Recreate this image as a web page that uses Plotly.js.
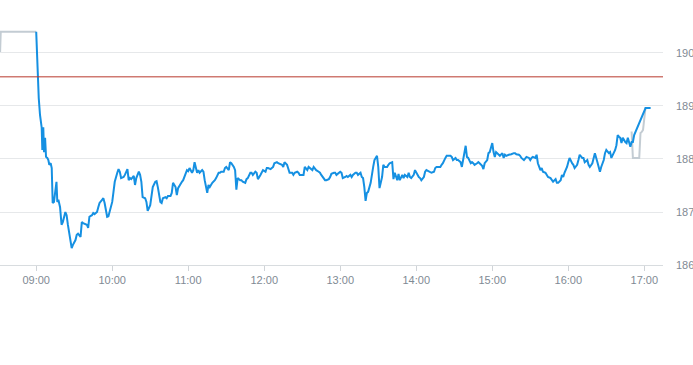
<!DOCTYPE html>
<html>
<head>
<meta charset="utf-8">
<script src="https://cdn.plot.ly/plotly-3.0.1.min.js"></script>
<style>html,body{margin:0;padding:0;background:#fff;}#chart{width:693px;height:365px;}</style>
</head>
<body>
<div id="chart"></div>
<script>
const sessionDate = "2024-01-01";
const prevClose = 189.55;

// pre-open and closing-auction segments (null = gap between them)
const extTimes = ["08:31:30","08:32","09:00","12:00","16:50","16:51","16:56","16:57","16:58","16:59","17:01"];
const extPrices = [190.02,190.40,190.40,null,188.52,188.02,188.02,188.49,188.51,188.55,188.98];

const mainTimes = [
"09:00","09:01","09:02","09:03","09:04:20","09:04:50","09:05:35","09:06:10","09:07","09:07:45","09:08:45","09:09:35","09:10:20","09:11:25","09:12:15","09:13","09:14","09:16","09:16:40","09:17:30","09:18:50",
"09:20","09:21","09:23","09:24","09:25","09:27","09:28","09:29","09:31","09:32","09:33","09:35","09:36","09:37","09:39","09:40","09:41","09:42","09:44","09:45","09:46","09:48","09:49","09:50","09:52","09:53","09:54","09:56","09:57","09:58",
"10:00","10:01","10:02","10:04","10:05","10:06","10:07","10:09","10:10","10:12","10:13","10:14","10:15","10:17","10:18","10:19","10:21","10:22","10:23","10:24","10:26","10:27","10:28","10:30","10:31","10:32","10:34","10:35","10:36","10:38","10:39","10:40","10:42","10:43","10:44","10:46","10:47","10:48","10:50","10:51","10:52","10:54","10:55","10:56","10:58","10:59",
"11:00","11:01","11:03","11:04","11:05","11:07","11:08","11:09","11:11","11:12","11:13","11:15","11:16","11:17","11:19","11:20","11:21","11:22","11:24","11:25","11:26","11:28","11:29","11:30","11:32","11:33","11:34","11:36","11:37","11:38","11:39","11:41","11:42","11:43","11:45","11:46","11:47","11:49","11:50","11:51","11:53","11:54","11:55","11:57","11:58","11:59",
"12:01","12:02","12:03","12:05","12:06","12:07","12:08","12:10","12:11","12:12","12:14","12:15","12:16","12:18","12:19","12:20","12:22","12:23","12:24","12:26","12:27","12:28","12:30","12:31","12:32","12:34","12:35","12:36","12:38","12:39","12:40","12:41","12:43","12:44","12:45","12:47","12:48","12:49","12:51","12:52","12:53","12:55","12:56","12:57","12:59",
"13:00","13:01","13:02","13:04","13:05","13:06","13:08","13:09","13:10","13:12","13:13","13:14","13:16","13:17","13:18","13:19","13:20","13:21","13:22","13:24","13:25","13:26","13:27","13:29","13:30","13:31","13:33","13:34","13:35","13:37","13:38","13:39","13:41","13:42","13:43","13:45","13:46","13:47","13:49","13:50","13:51","13:53","13:54","13:55","13:56","13:58","13:59",
"14:00","14:02","14:03","14:04","14:06","14:07","14:08","14:10","14:11","14:12","14:14","14:15","14:16","14:17","14:19","14:20","14:21","14:23","14:24","14:25","14:27","14:28","14:29","14:31","14:32","14:33","14:35","14:36","14:37","14:39","14:40","14:41","14:43","14:44","14:45","14:46","14:48","14:49","14:50","14:52","14:53","14:54","14:56","14:57","14:58","14:59",
"15:00","15:01","15:02","15:03","15:05","15:06","15:08","15:09","15:10","15:11","15:13","15:14","15:15","15:17","15:18","15:19","15:21","15:22","15:23","15:25","15:26","15:27","15:29","15:30","15:31","15:32","15:34","15:35","15:36","15:38","15:39","15:40","15:42","15:43","15:44","15:46","15:47","15:48","15:50","15:51","15:52","15:54","15:55","15:56","15:57","15:59",
"16:00","16:01","16:03","16:04","16:05","16:07","16:08","16:09","16:11","16:12","16:13","16:15","16:16","16:17","16:19","16:20","16:21","16:23","16:24","16:25","16:26","16:28","16:29","16:30","16:32","16:33","16:34","16:36","16:37","16:38","16:39","16:40","16:41","16:42","16:43","16:45","16:46","16:47","16:49","16:50","16:51","16:52","17:01","17:05"
];
const mainPrices = [
190.40,189.55,189.15,188.83,188.59,188.17,188.60,188.13,188.40,188.04,188.02,187.98,187.89,187.92,187.83,187.17,187.19,187.57,187.19,187.23,187.09,
186.76,186.81,187.00,186.94,186.76,186.51,186.32,186.38,186.47,186.57,186.59,186.53,186.81,186.79,186.77,186.76,186.70,186.91,186.94,186.98,186.96,187.00,187.09,187.17,187.23,187.26,187.17,186.91,186.92,187.00,
187.19,187.38,187.57,187.74,187.81,187.76,187.64,187.66,187.70,187.81,187.60,187.64,187.62,187.68,187.51,187.64,187.76,187.70,187.57,187.28,187.26,187.19,187.02,187.13,187.28,187.47,187.57,187.58,187.47,187.19,187.17,187.26,187.28,187.26,187.30,187.30,187.36,187.55,187.47,187.32,187.45,187.55,187.57,187.60,187.74,187.79,
187.77,187.83,187.74,187.79,187.94,187.74,187.79,187.74,187.79,187.76,187.60,187.36,187.51,187.47,187.55,187.57,187.60,187.64,187.74,187.74,187.76,187.76,187.83,187.85,187.79,187.94,187.92,187.85,187.79,187.42,187.64,187.60,187.60,187.57,187.55,187.62,187.64,187.74,187.74,187.70,187.76,187.74,187.62,187.70,187.74,187.79,
187.76,187.83,187.83,187.81,187.83,187.85,187.92,187.94,187.92,187.91,187.89,187.85,187.94,187.89,187.79,187.74,187.74,187.70,187.74,187.76,187.74,187.70,187.70,187.70,187.85,187.79,187.85,187.83,187.79,187.85,187.81,187.79,187.76,187.74,187.70,187.64,187.60,187.60,187.62,187.66,187.72,187.74,187.74,187.70,187.74,
187.76,187.74,187.64,187.66,187.68,187.66,187.70,187.66,187.70,187.74,187.74,187.70,187.74,187.66,187.64,187.47,187.21,187.36,187.38,187.55,187.74,187.85,187.98,188.06,187.85,187.45,187.66,187.89,187.85,187.85,187.89,187.92,187.94,187.62,187.74,187.60,187.72,187.60,187.70,187.64,187.70,187.66,187.74,187.66,187.64,187.70,187.79,
187.74,187.66,187.64,187.60,187.66,187.76,187.79,187.76,187.74,187.74,187.76,187.83,187.85,187.85,187.85,187.89,187.92,188.02,188.06,188.06,188.06,188.04,187.98,188.02,187.98,187.98,187.94,187.85,187.98,188.25,188.04,188.02,187.92,187.94,187.92,187.89,187.92,187.94,187.92,187.87,187.81,187.92,187.98,188.11,188.13,188.23,
188.30,188.13,188.04,188.13,188.08,188.06,188.11,188.02,188.08,188.06,188.08,188.08,188.09,188.11,188.11,188.09,188.08,188.06,188.02,187.98,188.02,188.04,188.02,187.98,188.02,188.04,188.02,188.08,187.92,187.79,187.83,187.76,187.74,187.70,187.66,187.64,187.60,187.57,187.62,187.55,187.55,187.60,187.70,187.66,187.74,187.85,
187.94,188.02,187.92,187.89,187.83,187.89,187.98,188.08,188.02,188.02,187.94,187.98,187.89,187.85,187.92,188.04,188.11,187.94,187.83,187.76,187.85,187.98,188.11,188.17,188.11,188.13,188.02,188.11,188.17,188.26,188.45,188.42,188.40,188.30,188.40,188.32,188.30,188.40,188.23,188.32,188.32,188.45,188.96,188.96
];

const yTicks = [186, 187, 188, 189, 190];
const xTickTimes = ["09:00","10:00","11:00","12:00","13:00","14:00","15:00","16:00","17:00"];
const xRange = ["08:31:25", "17:14:46"];

const toDate = t => sessionDate + " " + t;

const traces = [
  {
    x: extTimes.map(toDate), y: extPrices, type: "scatter", mode: "lines",
    connectgaps: false,
    line: {color: "#c3ccd3", width: 2}, hoverinfo: "skip", showlegend: false
  },
  {
    x: mainTimes.map(toDate), y: mainPrices, type: "scatter", mode: "lines",
    line: {color: "#1590e2", width: 2}, showlegend: false
  }
];

const layout = {
  width: 693, height: 365,
  margin: {l: 0, r: 30, t: 10, b: 100, pad: 0},
  paper_bgcolor: "#ffffff", plot_bgcolor: "#ffffff",
  font: {family: "Liberation Sans, Arial, sans-serif", size: 11, color: "#7f8a94"},
  xaxis: {
    type: "date",
    range: xRange.map(toDate),
    tickvals: xTickTimes.map(toDate),
    ticktext: xTickTimes,
    showgrid: false,
    ticks: "outside", ticklen: 5, tickcolor: "#d0d4d8", tickwidth: 1,
    showline: true, linecolor: "#d8dcdf", linewidth: 1,
    zeroline: false,
    tickfont: {size: 11, color: "#7f8a94"}
  },
  yaxis: {
    side: "right",
    range: [186, 190.811],
    tickvals: yTicks,
    ticktext: yTicks.map(String),
    showgrid: true, gridcolor: "#e6e8ea", gridwidth: 1,
    zeroline: false, showline: false, ticks: "",
    ticklabelstandoff: 12,
    tickfont: {size: 11, color: "#7f8a94"}
  },
  shapes: [{
    type: "line", xref: "paper", x0: 0, x1: 1, yref: "y", y0: prevClose, y1: prevClose,
    line: {color: "#b8382c", width: 1}
  }]
};

Plotly.newPlot("chart", traces, layout, {displayModeBar: false, staticPlot: true});
</script>
</body>
</html>
